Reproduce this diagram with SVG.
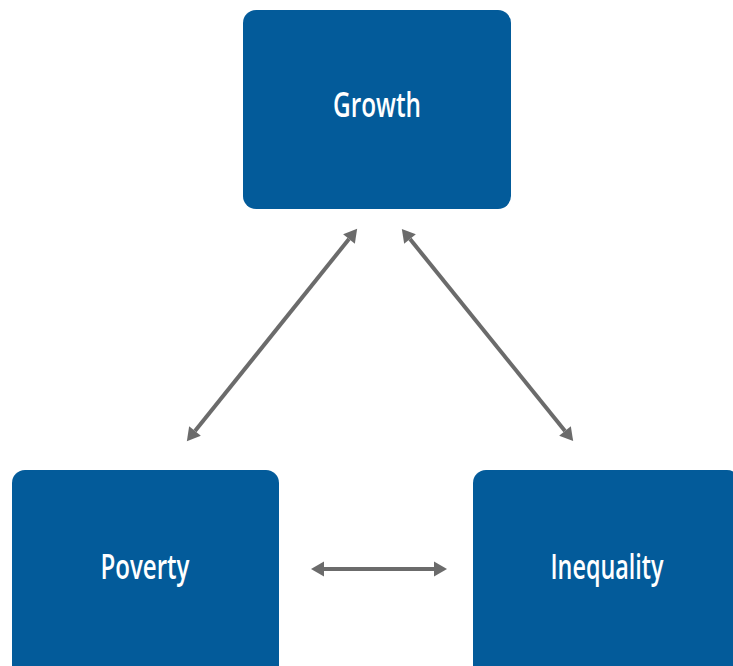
<svg xmlns="http://www.w3.org/2000/svg" width="733" height="666" viewBox="0 0 733 666">
<style>
.box{fill:#035b9a;}
.lbl{fill:#ffffff;font-family:"Open Sans","Noto Sans","Liberation Sans",sans-serif;font-size:35px;font-weight:600;text-anchor:middle;}
.conn{stroke:#6b6b6b;stroke-width:4;fill:none;marker-start:url(#ah);marker-end:url(#ah);}
</style>
<defs>
<marker id="ah" markerUnits="userSpaceOnUse" markerWidth="18" markerHeight="18" viewBox="0 -9 15 18" refX="0" refY="0" orient="auto-start-reverse">
<path d="M0,-7.5 L13,0 L0,7.5 z" fill="#6b6b6b"/>
</marker>
</defs>
<rect width="733" height="666" fill="#ffffff"/>
<g id="growth">
<rect class="box" x="243" y="10" width="268" height="199" rx="13"/>
<text class="lbl" x="377" y="117" textLength="88" lengthAdjust="spacingAndGlyphs">Growth</text>
</g>
<g id="poverty">
<rect class="box" x="12" y="470" width="267" height="210" rx="13"/>
<text class="lbl" x="145" y="579" textLength="89" lengthAdjust="spacingAndGlyphs">Poverty</text>
</g>
<g id="inequality">
<rect class="box" x="473" y="470" width="267" height="210" rx="13"/>
<text class="lbl" x="607" y="579" textLength="113" lengthAdjust="spacingAndGlyphs">Inequality</text>
</g>
<g id="connectors">
<line class="conn" x1="195" y1="431" x2="349" y2="239"/>
<line class="conn" x1="410" y1="239" x2="565" y2="431"/>
<line class="conn" x1="324" y1="569" x2="434" y2="569"/>
</g>
</svg>
